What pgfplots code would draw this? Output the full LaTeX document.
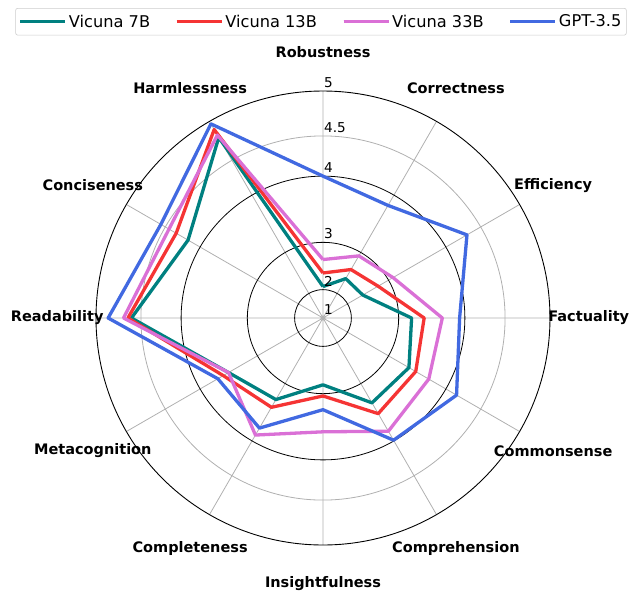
\documentclass[border=0pt]{standalone}
\usepackage{fontspec}
\setmainfont{DejaVu Sans}
\usepackage{pgfplots}
\usepackage{pgfplotstable}
\pgfplotsset{compat=1.18}
\usepgfplotslibrary{polar}
\definecolor{cteal}{RGB}{0,128,128}
\definecolor{cred}{RGB}{245,52,52}
\definecolor{cpink}{RGB}{218,112,214}
\definecolor{cblue}{RGB}{65,105,225}
\definecolor{spoke}{RGB}{176,176,176}
% angle (deg), score of Vicuna 7B (T), 13B (R), 33B (P), GPT-3.5 (B)
\pgfplotstableread{
ang T R P B
90 2.08 2.40 2.68 4.00
60 2.41 2.63 2.93 3.84
30 2.42 2.78 3.09 4.31
0 3.22 3.42 3.69 3.93
-30 3.39 3.51 3.73 4.16
-60 3.37 3.56 3.85 3.99
-90 2.84 3.04 3.61 3.27
-120 3.31 3.45 3.91 3.80
-150 3.54 3.63 3.54 3.72
-180 4.61 4.65 4.70 4.87
-210 4.18 4.35 4.45 4.56
-240 4.80 4.90 4.83 4.97
-270 2.08 2.40 2.68 4.00
}\scores
\begin{document}
\begin{tikzpicture}
\useasboundingbox (-323pt,-272pt) rectangle (306pt,318pt);
\begin{polaraxis}[
  at={(0,0)}, anchor=center,
  width=454pt, height=454pt, scale only axis,
  ymin=0, ymax=24,
  xtick={0,30,...,330},
  xticklabels={},
  ytick={3,8,15},
  yticklabels={},
  minor ytick={19.25},
  xmajorgrids, ymajorgrids, yminorgrids,
  major x grid style={spoke, line width=0.8pt},
  major y grid style={black, line width=0.8pt},
  minor y grid style={spoke, line width=0.8pt},
  major tick length=0pt, minor tick length=0pt,
  x axis line style={black, line width=0.9pt},
  y axis line style={draw=none},
  clip=false,
  legend columns=4,
  legend style={at={(0.4956,1.1828)}, anchor=north,
    draw=black!20, rounded corners=2pt, line width=0.6pt,
    font=\fontsize{16.2}{19}\selectfont,
    inner xsep=3pt, inner ysep=4.5pt,
    /tikz/every even column/.append style={column sep=23pt}},
  legend image code/.code={\draw[#1, line width=3.3pt] (0pt,0pt) -- (38pt,0pt);
    \path (0pt,0pt) -- (45pt,0pt);},
  every axis plot/.append style={line width=3.3pt, line join=round},
]
\addplot[cteal, no markers] table[x=ang, y expr=\thisrow{T}*\thisrow{T}-1] {\scores};
\addlegendentry{Vicuna 7B}
\addplot[cred, no markers] table[x=ang, y expr=\thisrow{R}*\thisrow{R}-1] {\scores};
\addlegendentry{Vicuna 13B}
\addplot[cpink, no markers] table[x=ang, y expr=\thisrow{P}*\thisrow{P}-1] {\scores};
\addlegendentry{Vicuna 33B}
\addplot[cblue, no markers] table[x=ang, y expr=\thisrow{B}*\thisrow{B}-1] {\scores};
\addlegendentry{GPT-3.5}
% category labels
\begin{scope}[every node/.style={font=\fontsize{14.5}{17}\selectfont\bfseries, anchor=center}]
\node at (axis cs:90,28.1) {Robustness};
\node at (axis cs:60,28.1) {Correctness};
\node at (axis cs:30,28.1) {Efficiency};
\node at (axis cs:0,28.1) {Factuality};
\node at (axis cs:-30,28.1) {Commonsense};
\node at (axis cs:-60,28.1) {Comprehension};
\node at (axis cs:-90,28.1) {Insightfulness};
\node at (axis cs:-120,28.1) {Completeness};
\node at (axis cs:-150,28.1) {Metacognition};
\node at (axis cs:180,28.1) {Readability};
\node at (axis cs:150,28.1) {Conciseness};
\node at (axis cs:120,28.1) {Harmlessness};
\end{scope}
% radial tick labels
\begin{scope}[every node/.style={font=\fontsize{13.6}{16}\selectfont, anchor=south west, inner sep=1pt, yshift=2pt}]
\node at (axis cs:90,0) {1};
\node at (axis cs:90,3) {2};
\node at (axis cs:90,8) {3};
\node at (axis cs:90,15) {4};
\node at (axis cs:90,19.25) {4.5};
\node at (axis cs:90,24) {5};
\end{scope}
\end{polaraxis}
\end{tikzpicture}
\end{document}
